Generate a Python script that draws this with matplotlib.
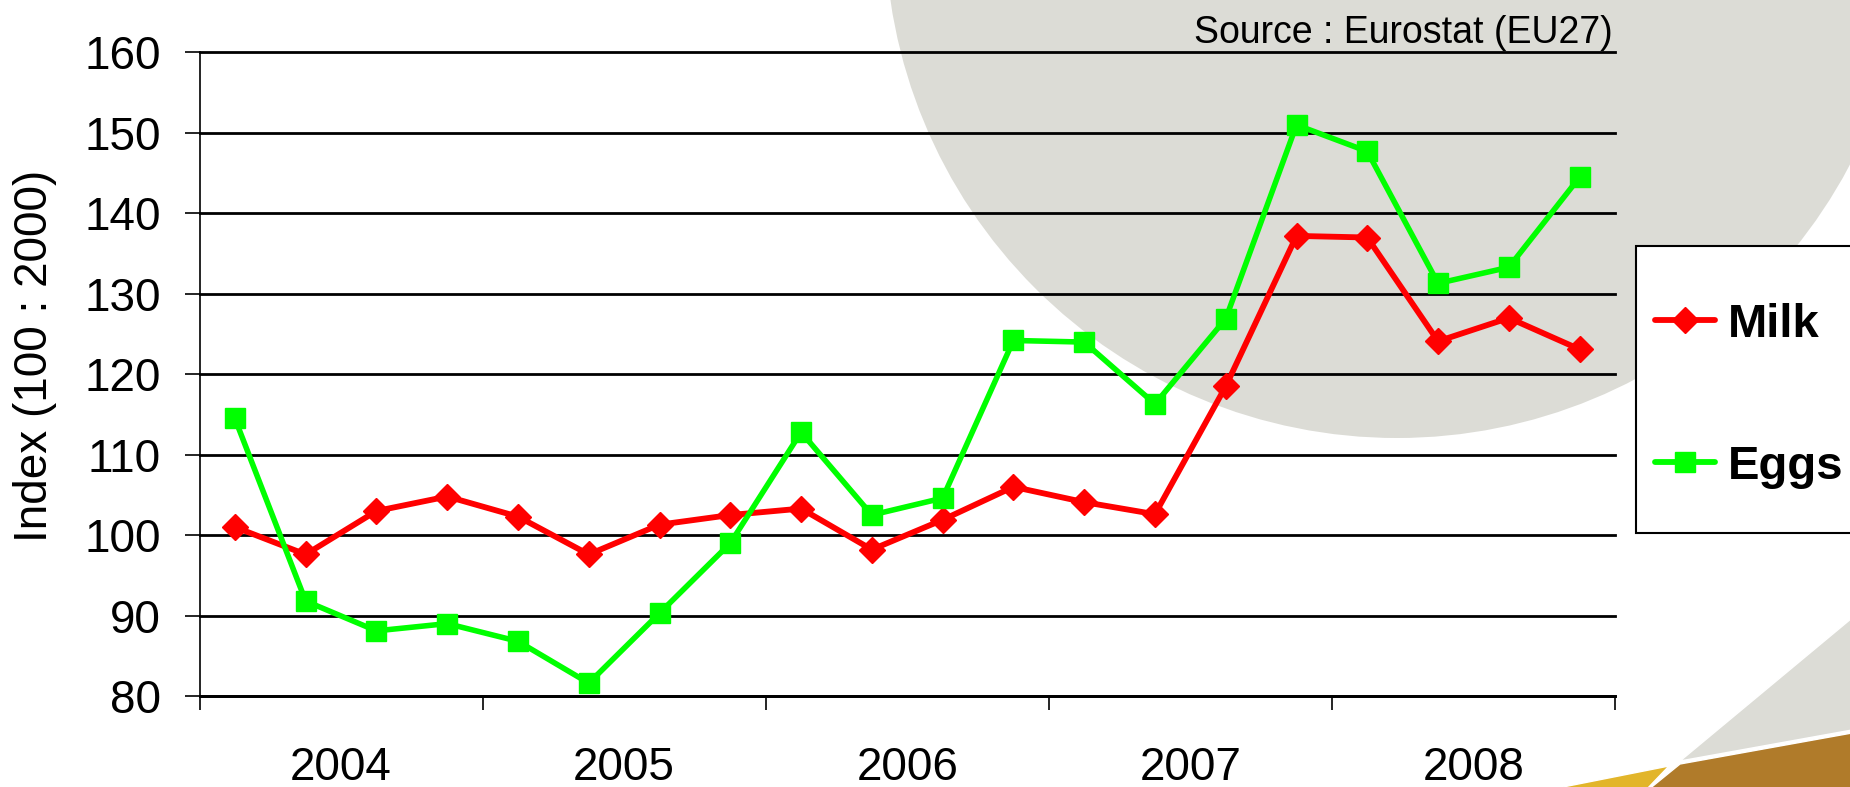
import numpy as np
import matplotlib.pyplot as plt
from matplotlib.patches import Ellipse, Polygon, Rectangle
from matplotlib.lines import Line2D

plt.rcParams['font.family'] = ['Liberation Sans', 'DejaVu Sans']

# Quarterly price index, 2004 Q1 - 2008 Q4
years = ['2004', '2005', '2006', '2007', '2008']
milk = [101.0, 97.6, 103.0, 104.8, 102.3, 97.6, 101.3, 102.5, 103.3, 98.2,
        101.9, 106.0, 104.1, 102.6, 118.5, 137.2, 137.0, 124.1, 127.0, 123.1]
eggs = [114.5, 91.8, 88.1, 89.0, 86.8, 81.6, 90.3, 99.0, 112.8, 102.5,
        104.6, 124.2, 124.0, 116.3, 126.9, 151.0, 147.7, 131.3, 133.3, 144.5]
yticks = list(range(80, 161, 10))

W, H = 1850, 787

def fx(px):
    return px / W

def fy(py):
    return 1 - py / H

fig = plt.figure(figsize=(W / 100, H / 100), dpi=100, facecolor='white')

# background decoration
circle = Ellipse((fx(1397), fy(-74)), 2 * 512 / W, 2 * 512 / H,
                 transform=fig.transFigure, facecolor='#dcdcd6',
                 edgecolor='none', zorder=-5)
fig.patches.append(circle)
shapes = [
    ([(1680, 761), (1852, 618), (1852, 730)], '#dcdcd6'),
    ([(1680, 764), (1852, 733), (1852, 790), (1648, 790)], '#b07b2a'),
    ([(1548, 790), (1669, 766), (1646, 790)], '#e2b52a'),
]
for pts, col in shapes:
    poly = Polygon([(fx(x), fy(y)) for x, y in pts], closed=True,
                   transform=fig.transFigure, facecolor=col,
                   edgecolor='white', linewidth=1.0, zorder=-4)
    fig.patches.append(poly)

ax = fig.add_axes([fx(199.5), fy(696), fx(1615) - fx(199.5), fy(52.5) - fy(696)])
ax.set_facecolor('none')

n = len(milk)
x = np.arange(n) + 0.5
ax.plot(x, milk, color='#ff0000', lw=4.2, marker='D', markersize=13,
        zorder=3, solid_joinstyle='miter')
ax.plot(x, eggs, color='#00ff00', lw=4.0, marker='s', markersize=14.5,
        zorder=4, solid_joinstyle='miter')

ax.set_xlim(0, n)
ax.set_ylim(80, 160)
ax.set_yticks(yticks)
ax.yaxis.grid(True, color='black', lw=2.0)
ax.set_axisbelow(True)
for gl in ax.get_ygridlines():
    gl.set_clip_on(False)

for s in ['top', 'right']:
    ax.spines[s].set_visible(False)
ax.spines['left'].set_linewidth(1.2)
ax.spines['bottom'].set_linewidth(2.0)

ax.tick_params(axis='y', direction='out', length=10.5, width=1.2,
               pad=17.5, labelsize=33)
ax.set_xticks(np.arange(0, n + 1, 4))
ax.set_xticklabels([])
ax.tick_params(axis='x', which='major', direction='out', length=10,
               width=1.2)
ax.set_xticks(np.arange(2, n, 4), minor=True)
ax.set_xticklabels(years, minor=True)
ax.tick_params(axis='x', which='minor', length=0, pad=36, labelsize=33)

fig.text(fx(35), fy(356), 'Index (100 : 2000)', rotation=90,
         ha='center', va='center', fontsize=33)
fig.text(fx(1613), fy(43), 'Source : Eurostat (EU27)', ha='right',
         va='baseline', fontsize=27)

# legend box
box = Rectangle((fx(1636), fy(533)), fx(1870) - fx(1636), fy(246) - fy(533),
                transform=fig.transFigure, facecolor='white',
                edgecolor='black', linewidth=1.5, zorder=5)
fig.patches.append(box)
for label, col, mk, ms, yy in [('Milk', '#ff0000', 'D', 13, 320),
                               ('Eggs', '#00ff00', 's', 14.5, 462)]:
    ln = Line2D([fx(1655), fx(1685), fx(1715)], [fy(yy)] * 3,
                transform=fig.transFigure, color=col, lw=4.2, marker=mk,
                markersize=ms, markevery=[1], solid_capstyle='round',
                zorder=6)
    fig.lines.append(ln)
    fig.text(fx(1728), fy(yy), label, ha='left', va='center_baseline',
             fontsize=34, fontweight='bold', zorder=6)

fig.savefig('out.png', dpi=100, facecolor='white')
